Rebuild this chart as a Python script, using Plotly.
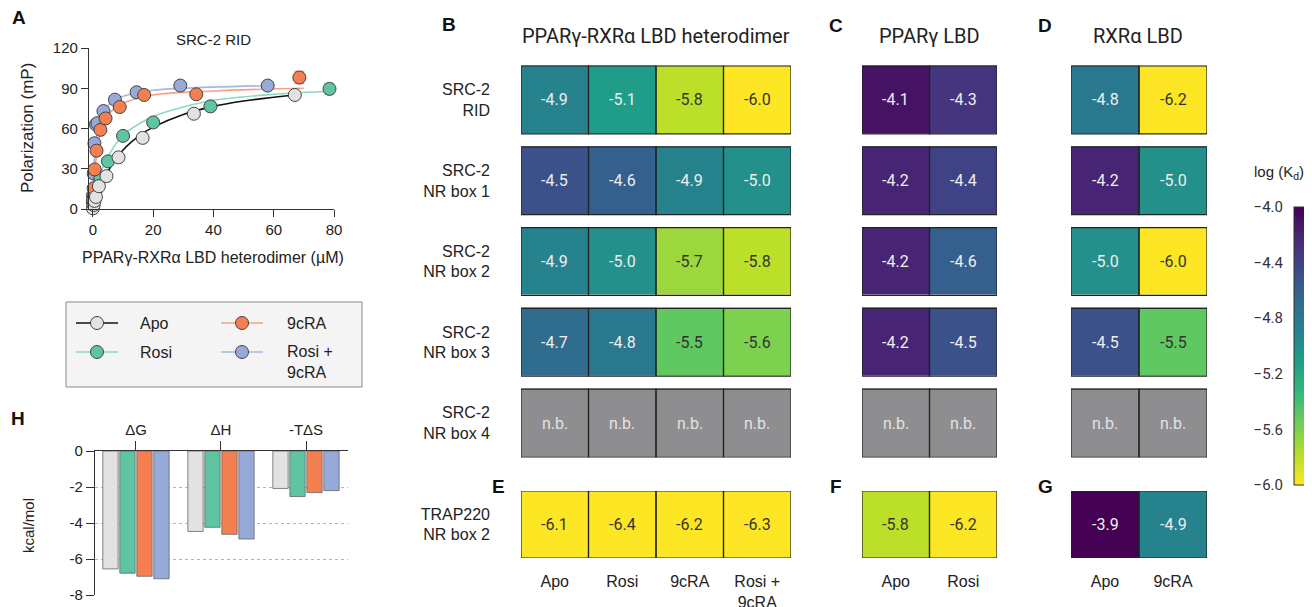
import plotly.graph_objects as go

# the page body adds an 8px margin, so the figure is drawn 8px in from the corner
OFF = 8
W, H = 1312 - OFF, 607 - OFF
def fx(p): return (p - OFF) / W
def fy(p): return 1 - (p - OFF) / H

ARIAL = "Liberation Sans, Arial, sans-serif"
ROBOTO = "Roboto, sans-serif"
TXT = "#222222"

# ---------------- Panel A data ----------------
series_names = ["Apo", "Rosi", "9cRA", "Rosi +<br>9cRA"]
marker_colors = ["#e2e2e2", "#5ec4a2", "#f47f50", "#96a9d8"]
line_colors = ["#111111", "#8ed8bf", "#f7a283", "#a9b8e2"]

apo_x = [0, 0.25, 0.5, 1, 2, 4.5, 8.5, 16.5, 33.5, 67]
apo_y = [0.5, 3, 6, 9, 17, 24.5, 38.5, 53, 71, 85]
rosi_x = [0, 0.25, 0.5, 1, 2.5, 5, 10, 20, 39, 78.5]
rosi_y = [5, 8, 11, 14, 23, 35.5, 54.5, 64.5, 76.5, 89.5]
rosi_err = [0, 0, 0, 0, 0, 0, 0, 0, 0, 4]
cra_x = [0, 0.25, 0.6, 1.2, 2.5, 4.2, 8.9, 17, 34.3, 68.5]
cra_y = [6, 15.5, 29.5, 43.5, 59, 67.5, 76, 85, 85.5, 98]
cra_err = [0, 0, 0, 0, 0, 0, 0, 0, 0, 4.5]
both_x = [0, 0.25, 0.5, 1, 1.5, 3.5, 7.3, 14.5, 29, 58]
both_y = [10, 26.5, 49, 63, 64, 73, 81.5, 87, 92, 92]

# fitted curves
apo_fit_x = [0, 2, 5, 10, 15, 20, 30, 40, 50, 67]
apo_fit_y = [0, 13, 28, 44, 54, 61, 70.5, 76.5, 80.5, 85]
rosi_fit_x = [0, 2, 5, 10, 15, 20, 30, 40, 60, 80]
rosi_fit_y = [5, 23, 39, 55, 63, 69, 76, 81, 85.5, 88]
cra_fit_x = [0, 0.5, 1, 2, 4, 7, 10, 20, 40, 70]
cra_fit_y = [5, 25, 37, 52, 66, 75, 79, 85, 88, 90]
both_fit_x = [0, 0.5, 1, 2, 4, 7, 10, 20, 30, 58]
both_fit_y = [8, 38, 50, 63, 74, 81, 84, 88.5, 90, 92]

# ---------------- Panel H data ----------------
thermo_terms = ["ΔG", "ΔH", "-TΔS"]
thermo_apo = [-6.55, -4.47, -2.08]
thermo_rosi = [-6.79, -4.24, -2.53]
thermo_cra = [-6.96, -4.63, -2.31]
thermo_both = [-7.1, -4.89, -2.2]
h_ticks = [0, -2, -4, -6, -8]

# ---------------- Heatmap data ----------------
peptides = ["SRC-2<br>RID", "SRC-2<br>NR box 1", "SRC-2<br>NR box 2",
            "SRC-2<br>NR box 3", "SRC-2<br>NR box 4"]
trap_label = ["TRAP220<br>NR box 2"]
het_cols = ["Apo", "Rosi", "9cRA", "Rosi +<br>9cRA"]
ppar_cols = ["Apo", "Rosi"]
rxr_cols = ["Apo", "9cRA"]

het_vals = [[-4.9, -5.1, -5.8, -6.0],
            [-4.5, -4.6, -4.9, -5.0],
            [-4.9, -5.0, -5.7, -5.8],
            [-4.7, -4.8, -5.5, -5.6],
            [None, None, None, None]]
ppar_vals = [[-4.1, -4.3],
             [-4.2, -4.4],
             [-4.2, -4.6],
             [-4.2, -4.5],
             [None, None]]
rxr_vals = [[-4.8, -6.2],
            [-4.2, -5.0],
            [-5.0, -6.0],
            [-4.5, -5.5],
            [None, None]]
het_trap = [[-6.1, -6.4, -6.2, -6.3]]
ppar_trap = [[-5.8, -6.2]]
rxr_trap = [[-3.9, -4.9]]

cbar_ticks = [-4.0, -4.4, -4.8, -5.2, -5.6, -6.0]
cbar_text = ["−4.0", "−4.4", "−4.8", "−5.2", "−5.6", "−6.0"]

fig = go.Figure()
annotations = []
shapes = []

# ---------------- Panel A traces ----------------
fits = [(apo_fit_x, apo_fit_y), (rosi_fit_x, rosi_fit_y),
        (cra_fit_x, cra_fit_y), (both_fit_x, both_fit_y)]
pts = [(apo_x, apo_y, None), (rosi_x, rosi_y, rosi_err),
       (cra_x, cra_y, cra_err), (both_x, both_y, None)]
for k, (fxv, fyv) in enumerate(fits):
    fig.add_trace(go.Scatter(x=fxv, y=fyv, mode="lines", line=dict(color=line_colors[k], width=1.6, shape="spline"),
                             xaxis="x", yaxis="y", showlegend=False, hoverinfo="skip"))
for k in [3, 1, 2, 0]:
    px_, py_, pe = pts[k]
    fig.add_trace(go.Scatter(
        x=px_, y=py_, mode="markers",
        marker=dict(size=13, color=marker_colors[k], line=dict(color="#444444", width=1)),
        error_y=dict(type="data", array=pe, visible=pe is not None, color=line_colors[k], thickness=1.5, width=5),
        xaxis="x", yaxis="y", showlegend=False, hoverinfo="skip", cliponaxis=False))

# ---------------- Legend box (hidden axes x9/y9) ----------------
shapes.append(dict(type="rect", xref="paper", yref="paper", x0=fx(66), x1=fx(362), y0=fy(387), y1=fy(302),
                   fillcolor="#f4f4f4", line=dict(color="#8a8a8a", width=1), layer="below"))
leg_pos = [(76, 118, 323, 138), (76, 118, 352, 138), (221, 263, 323, 285), (221, 263, 352, 285)]
for k, (l0, l1, ly, tx) in enumerate(leg_pos):
    fig.add_trace(go.Scatter(x=[l0, l1], y=[ly, ly], mode="lines", line=dict(color=line_colors[k], width=1.6),
                             xaxis="x9", yaxis="y9", showlegend=False, hoverinfo="skip"))
    fig.add_trace(go.Scatter(x=[(l0 + l1) / 2], y=[ly], mode="markers",
                             marker=dict(size=13, color=marker_colors[k], line=dict(color="#444444", width=1)),
                             xaxis="x9", yaxis="y9", showlegend=False, hoverinfo="skip"))
    if "<br>" in series_names[k]:
        annotations.append(dict(xref="x9", yref="y9", x=tx, y=ly - 11, text=series_names[k], showarrow=False,
                                xanchor="left", yanchor="top", align="left", font=dict(family=ARIAL, size=16, color=TXT)))
    else:
        annotations.append(dict(xref="x9", yref="y9", x=tx, y=ly, text=series_names[k], showarrow=False,
                                xanchor="left", yanchor="middle", font=dict(family=ARIAL, size=16, color=TXT)))

# ---------------- Panel H bars ----------------
for k, vals in enumerate([thermo_apo, thermo_rosi, thermo_cra, thermo_both]):
    fig.add_trace(go.Bar(x=list(range(len(thermo_terms))), y=vals, marker=dict(color=marker_colors[k],
                         line=dict(color="#666666", width=0.8)), xaxis="x2", yaxis="y2",
                         showlegend=False, hoverinfo="skip"))

# ---------------- Heatmaps ----------------
row_pitch = (463.5 - 59.5) / 5.0
gfrac = 6.5 / row_pitch
nb_grey = "#8e8e90"

def add_heat(vals, xa, ya, gap, gpx, show_scale=False):
    nrows, ncols = len(vals), len(vals[0])
    hm = dict(z=vals, x=list(range(ncols)), y=list(range(nrows)), colorscale="Viridis", reversescale=True,
              zmin=-6, zmax=-4, ygap=gpx, showscale=show_scale, hoverinfo="skip", xaxis=xa, yaxis=ya)
    if show_scale:
        hm["colorbar"] = dict(x=fx(1294), xanchor="left", xpad=0, y=fy(207), yanchor="top", ypad=0,
                              len=278, lenmode="pixels", thickness=32, thicknessmode="pixels",
                              outlinewidth=1, outlinecolor="#333333", showticklabels=False, ticks="")
    fig.add_trace(go.Heatmap(**hm))
    nb = [[1 if v is None else None for v in row] for row in vals]
    if any(v is not None for row in nb for v in row):
        fig.add_trace(go.Heatmap(z=nb, x=list(range(ncols)), y=list(range(nrows)),
                                 colorscale=[[0, nb_grey], [1, nb_grey]], showscale=False, ygap=gpx,
                                 hoverinfo="skip", xaxis=xa, yaxis=ya))
    for i, row in enumerate(vals):
        for j, v in enumerate(row):
            if v is None:
                txt, col = "n.b.", "#e4e4e4"
            else:
                txt = f"{v:.1f}"
                col = "#333333" if v <= -5.4 else "#eeeeee"
            annotations.append(dict(xref=xa, yref=ya, x=j, y=i, text=txt, showarrow=False,
                                    xanchor="center", yanchor="middle",
                                    font=dict(family=ROBOTO, size=16, color=col)))
            shapes.append(dict(type="rect", xref=xa, yref=ya, x0=j - 0.5, x1=j + 0.5,
                               y0=i - 0.5 + gap, y1=i + 0.5 - gap, line=dict(color="#222222", width=1.2)))

add_heat(het_vals, "x3", "y3", gfrac, 13)
add_heat(ppar_vals, "x4", "y4", gfrac, 13)
add_heat(rxr_vals, "x5", "y5", gfrac, 13, show_scale=True)
add_heat(het_trap, "x6", "y6", 0, 0)
add_heat(ppar_trap, "x7", "y7", 0, 0)
add_heat(rxr_trap, "x8", "y8", 0, 0)

# dummy trace for colorbar labels axis
fig.add_trace(go.Scatter(x=[0, 0], y=[min(cbar_ticks), max(cbar_ticks)], mode="markers", marker=dict(opacity=0),
                         xaxis="x10", yaxis="y10", showlegend=False, hoverinfo="skip"))

# ---------------- Layout ----------------
hidden = dict(visible=False, showgrid=False, zeroline=False, fixedrange=True)

def heat_x(dom, cols, labels, anchor):
    d = dict(domain=[fx(dom[0]), fx(dom[1])], range=[-0.5, cols - 0.5], showgrid=False, zeroline=False,
             showline=False, fixedrange=True, anchor=anchor)
    if labels is None:
        d["showticklabels"] = False
        d["ticks"] = ""
    else:
        d.update(tickvals=list(range(cols)), ticktext=labels, ticks="", ticklabelstandoff=12,
                 tickfont=dict(family=ARIAL, size=16, color=TXT))
    return d

def heat_y(dom, rows, labels, anchor):
    d = dict(domain=[fy(dom[1]), fy(dom[0])], range=[rows - 0.5, -0.5], showgrid=False, zeroline=False,
             showline=False, fixedrange=True, anchor=anchor)
    if labels is None:
        d["showticklabels"] = False
        d["ticks"] = ""
    else:
        d.update(tickvals=list(range(rows)), ticktext=labels, ticks="", ticklabelstandoff=30,
                 tickfont=dict(family=ARIAL, size=16, color=TXT))
    return d

rows_top, rows_bot = 59.5, 463.5
e_top, e_bot = 491, 558
B_dom, C_dom, D_dom = (521, 791), (862, 997), (1071, 1207)

fig.update_layout(
    width=W, height=H, margin=dict(l=0, r=0, t=0, b=0, autoexpand=False),
    paper_bgcolor="white", plot_bgcolor="rgba(0,0,0,0)", showlegend=False,
    barmode="group", bargap=0.2, bargroupgap=0.1,
    xaxis=dict(domain=[fx(89), fx(334)], range=[-1.3, 80], tickvals=[0, 20, 40, 60, 80], ticks="outside",
               ticklen=7, tickcolor="#333", showline=True, linecolor="#333", linewidth=1.2, showgrid=False,
               zeroline=False, anchor="y", tickfont=dict(family=ARIAL, size=15, color=TXT)),
    yaxis=dict(domain=[fy(209), fy(48)], range=[0, 120], tickvals=[0, 30, 60, 90, 120], ticks="outside",
               ticklen=7, tickcolor="#333", showline=True, linecolor="#333", linewidth=1.2, showgrid=False,
               zeroline=False, anchor="x", tickfont=dict(family=ARIAL, size=15, color=TXT)),
    xaxis2=dict(domain=[fx(95), fx(348)], range=[-0.482, 2.494], side="top", tickvals=[0, 1, 2],
                ticktext=thermo_terms, ticks="outside", ticklen=9, tickcolor="#333", showline=True,
                linecolor="#333", linewidth=1.2, showgrid=False, zeroline=False, anchor="y2",
                tickfont=dict(family=ARIAL, size=15, color=TXT)),
    yaxis2=dict(domain=[fy(595), fy(451)], range=[-8, 0], tickvals=h_ticks, ticktext=[str(t) for t in h_ticks],
                ticks="outside", ticklen=8, tickcolor="#333", showline=True, linecolor="#333", linewidth=1.2,
                showgrid=True, gridcolor="#b5b5b5", griddash="dot", gridwidth=1, zeroline=False, anchor="x2",
                tickfont=dict(family=ARIAL, size=15, color=TXT)),
    xaxis3=heat_x(B_dom, 4, None, "y3"), yaxis3=heat_y((rows_top, rows_bot), 5, peptides, "x3"),
    xaxis4=heat_x(C_dom, 2, None, "y4"), yaxis4=heat_y((rows_top, rows_bot), 5, None, "x4"),
    xaxis5=heat_x(D_dom, 2, None, "y5"), yaxis5=heat_y((rows_top, rows_bot), 5, None, "x5"),
    xaxis6=heat_x(B_dom, 4, het_cols, "y6"), yaxis6=heat_y((e_top, e_bot), 1, trap_label, "x6"),
    xaxis7=heat_x(C_dom, 2, ppar_cols, "y7"), yaxis7=heat_y((e_top, e_bot), 1, None, "x7"),
    xaxis8=heat_x(D_dom, 2, rxr_cols, "y8"), yaxis8=heat_y((e_top, e_bot), 1, None, "x8"),
    xaxis9=dict(domain=[fx(66), fx(362)], range=[66, 362], anchor="y9", **hidden),
    yaxis9=dict(domain=[fy(387), fy(302)], range=[387, 302], anchor="x9", **hidden),
    xaxis10=dict(domain=[fx(1294), 1.0], range=[0, 1], anchor="y10", **hidden),
    yaxis10=dict(domain=[fy(485), fy(207)], range=[min(cbar_ticks), max(cbar_ticks)], anchor="x10",
                 tickvals=cbar_ticks, ticktext=cbar_text, ticks="", showline=False, showgrid=False,
                 zeroline=False, fixedrange=True, ticklabelstandoff=10,
                 tickfont=dict(family=ROBOTO, size=15, color="#333333")),
)

# titles / labels
def ann(x, y, text, size=16, family=ARIAL, bold=False, **kw):
    t = f"<b>{text}</b>" if bold else text
    d = dict(xref="paper", yref="paper", x=fx(x), y=fy(y), text=t, showarrow=False,
             xanchor="center", yanchor="middle",
             font=dict(family=family, size=size, color="#111111" if bold else TXT))
    d.update(kw)
    annotations.append(d)

for letter, (lx, ly) in {"A": (19, 17), "B": (449, 24), "C": (836, 25), "D": (1045, 25),
                         "E": (498, 486), "F": (836, 486), "G": (1045, 486), "H": (18, 418)}.items():
    ann(lx, ly, letter, size=19, bold=True)

ann(213, 39, "SRC-2 RID", size=15)
ann(213, 257, "PPARγ-RXRα LBD heterodimer (µM)", size=16)
ann(28, 128, "Polarization (mP)", size=17, textangle=-90)
ann(28, 526, "kcal/mol", size=15, textangle=-90)
ann(656, 36, "PPARγ-RXRα LBD heterodimer", size=20, family=ROBOTO)
ann(929, 36, "PPARγ LBD", size=20, family=ROBOTO)
ann(1138, 36, "RXRα LBD", size=20, family=ROBOTO)
ann(1279, 172, "log (K<sub>d</sub>)", size=15)

fig.update_layout(annotations=annotations, shapes=shapes)
fig.write_html("out.html")
